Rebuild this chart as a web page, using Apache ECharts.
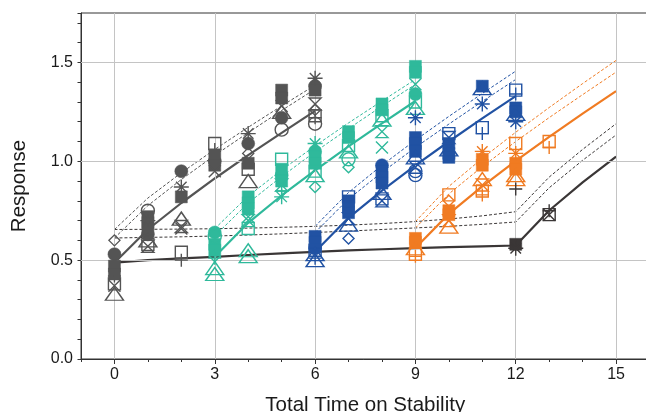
<!DOCTYPE html>
<html><head><meta charset="utf-8">
<script src="https://cdn.jsdelivr.net/npm/echarts@6/dist/echarts.min.js"></script>
<style>html,body{margin:0;padding:0;background:#fff}#c{width:646px;height:412px}</style>
</head><body><div id="c"></div>
<script>
// ---- tick labels ----
const xTicks = [0, 3, 6, 9, 12, 15];
const yTicks = [0.0, 0.5, 1.0, 1.5];

// ---- observations: [time, response, sample id] ----
const grayPoints = [
  [0,0.60,5],[0,0.53,0],[0,0.47,1],[0,0.43,1],[0,0.42,6],[0,0.38,2],[0,0.37,7],[0,0.33,4],
  [1,0.75,3],[1,0.72,1],[1,0.70,8],[1,0.69,1],[1,0.66,1],[1,0.63,0],[1,0.60,4],[1,0.58,2],[1,0.57,9],
  [2,0.95,0],[2,0.87,8],[2,0.82,1],[2,0.71,4],[2,0.67,9],[2,0.66,7],[2,0.54,2],[2,0.50,6],
  [3,1.09,2],[3,1.06,6],[3,1.03,1],[3,1.00,0],[3,0.98,1],[3,0.95,7],
  [4,1.14,8],[4,1.09,0],[4,1.04,5],[4,0.99,1],[4,0.96,2],[4,0.90,4],
  [5,1.36,1],[5,1.32,1],[5,1.28,7],[5,1.25,4],[5,1.22,0],[5,1.16,3],
  [6,1.42,8],[6,1.38,0],[6,1.36,1],[6,1.29,9],[6,1.26,5],[6,1.23,2],[6,1.22,6],[6,1.19,3]
];
const tealPoints = [
  [3,0.64,0],[3,0.62,3],[3,0.58,1],[3,0.55,1],[3,0.52,5],[3,0.51,6],[3,0.46,4],[3,0.43,4],
  [4,0.82,1],[4,0.79,1],[4,0.76,1],[4,0.72,7],[4,0.70,9],[4,0.66,2],[4,0.55,4],[4,0.52,4],
  [5,1.01,2],[5,0.96,1],[5,0.93,0],[5,0.90,1],[5,0.88,9],[5,0.85,6],[5,0.82,8],
  [6,1.09,8],[6,1.05,0],[6,1.02,1],[6,0.99,1],[6,0.95,2],[6,0.93,4],[6,0.87,5],
  [7,1.15,1],[7,1.12,1],[7,1.08,2],[7,1.05,4],[7,1.01,3],[7,0.97,5],
  [8,1.29,1],[8,1.26,1],[8,1.23,2],[8,1.21,4],[8,1.15,9],[8,1.07,7],
  [9,1.48,1],[9,1.45,1],[9,1.39,7],[9,1.34,0],[9,1.30,2],[9,1.27,4]
];
const bluePoints = [
  [6,0.62,1],[6,0.59,1],[6,0.56,0],[6,0.55,2],[6,0.53,4],[6,0.51,6],[6,0.50,4],
  [7,0.82,2],[7,0.80,1],[7,0.77,1],[7,0.74,1],[7,0.71,9],[7,0.68,4],[7,0.61,5],
  [8,0.98,0],[8,0.95,1],[8,0.92,1],[8,0.89,1],[8,0.84,4],[8,0.81,2],[8,0.80,9],
  [9,1.22,8],[9,1.12,1],[9,1.09,1],[9,1.05,1],[9,1.02,4],[9,0.97,9],[9,0.95,3],[9,0.93,3],
  [10,1.14,2],[10,1.12,9],[10,1.09,1],[10,1.06,4],[10,1.04,1],[10,1.02,1],
  [11,1.38,1],[11,1.37,4],[11,1.29,8],[11,1.17,2],[11,1.14,6],
  [12,1.36,2],[12,1.34,6],[12,1.27,1],[12,1.25,1],[12,1.24,4],[12,1.20,8]
];
const orangePoints = [
  [9,0.61,1],[9,0.59,1],[9,0.56,4],[9,0.53,2],[9,0.52,6],
  [10,0.83,2],[10,0.80,5],[10,0.75,1],[10,0.73,1],[10,0.70,9],[10,0.67,4],
  [11,1.05,8],[11,1.01,1],[11,0.98,1],[11,0.91,4],[11,0.88,9],[11,0.85,2],[11,0.83,6],
  [12,1.09,2],[12,1.04,8],[12,0.99,1],[12,0.96,1],[12,0.93,4],[12,0.91,4],
  [13,1.10,2],[13,1.07,6]
];
const blackPoints = [
  [12,0.58,1],[12,0.56,8],[12,0.86,6],[13,0.73,2],[13,0.73,7],[13,0.75,6]
];

// ---- fitted curves and bands ----
const blackFit = [[0,0.487],[1,0.50],[2,0.509],[3,0.517],[4,0.526],[5,0.534],[6,0.542],[7,0.549],[8,0.555],[9,0.561],[10,0.566],[11,0.570],[12,0.574],[13,0.751],[14,0.893],[15,1.024]];
const blackUpper = [[0,0.655],[1,0.656],[2,0.657],[3,0.659],[4,0.662],[5,0.666],[6,0.671],[7,0.677],[8,0.685],[9,0.695],[10,0.708],[11,0.724],[12,0.745],[13,0.92],[14,1.06],[15,1.19]];
const blackLower = [[0,0.612],[1,0.615],[2,0.618],[3,0.622],[4,0.627],[5,0.633],[6,0.640],[7,0.647],[8,0.655],[9,0.663],[10,0.671],[11,0.681],[12,0.693],[13,0.866],[14,1.005],[15,1.133]];
const grayFit = [[0,0.487],[1,0.655],[2,0.789],[3,0.913],[4,1.031],[5,1.144],[6,1.255]];
const grayUpper = [[0,0.655],[1,0.814],[2,0.942],[3,1.060],[4,1.172],[5,1.28],[6,1.385]];
const grayLower = [[0,0.612],[1,0.776],[2,0.908],[3,1.03],[4,1.145],[5,1.257],[6,1.365]];
const tealFit = [[3,0.517],[4,0.689],[5,0.827],[6,0.954],[7,1.075],[8,1.192],[9,1.305]];
const tealUpper = [[3,0.659],[4,0.824],[5,0.956],[6,1.078],[7,1.194],[8,1.305],[9,1.414]];
const tealLower = [[3,0.622],[4,0.789],[5,0.923],[6,1.048],[7,1.165],[8,1.279],[9,1.389]];
const blueFit = [[6,0.542],[7,0.714],[8,0.852],[9,0.979],[10,1.10],[11,1.217],[12,1.33]];
const blueUpper = [[6,0.671],[7,0.842],[8,0.98],[9,1.107],[10,1.227],[11,1.343],[12,1.456]];
const blueLower = [[6,0.640],[7,0.809],[8,0.944],[9,1.07],[10,1.188],[11,1.303],[12,1.414]];
const orangeFit = [[9,0.561],[10,0.734],[11,0.873],[12,1.002],[13,1.123],[14,1.241],[15,1.355]];
const orangeUpper = [[9,0.695],[10,0.873],[11,1.015],[12,1.147],[13,1.272],[14,1.393],[15,1.51]];
const orangeLower = [[9,0.663],[10,0.835],[11,0.973],[12,1.10],[13,1.221],[14,1.337],[15,1.451]];

// ---- styling ----
const C = { gray:'#545454', teal:'#2fb99b', blue:'#2152a3', orange:'#f07b22', black:'#3a3636' };
const FONT = 'Liberation Sans, Arial, sans-serif';
const markerDefs = [
  {symbol:'circle', size:13, fill:true},
  {symbol:'rect', size:12, fill:true},
  {symbol:'rect', size:12, fill:false},
  {symbol:'circle', size:13, fill:false},
  {symbol:'triangle', size:[18,13], fill:false},
  {symbol:'diamond', size:[11,11], fill:false},
  {symbol:'path://M5,0L5,10M0,5L10,5', size:13, fill:false},
  {symbol:'path://M0,0L10,10M10,0L0,10', size:12, fill:false},
  {symbol:'path://M5,0L5,10M0,5L10,5M1.5,1.5L8.5,8.5M8.5,1.5L1.5,8.5', size:15, fill:false},
  {symbol:'path://M0,0L10,0L0,10L10,10Z', size:12, fill:false}
];

function scatterSeries(points, color) {
  return markerDefs.map((m, k) => ({
    type:'scatter', z:5, silent:true, symbol:m.symbol, symbolSize:m.size,
    itemStyle: m.fill ? {color:color, borderColor:color, borderWidth:0.5, opacity:1}
                      : {color:'transparent', borderColor:color, borderWidth:1.4, opacity:1},
    data: points.filter(p => p[2] === k).map(p => [p[0], p[1]])
  })).filter(s => s.data.length);
}
function lineSeries(data, color, dashed) {
  return {type:'line', z:4, silent:true, symbol:'none', smooth:false, data:data,
    lineStyle:{color:color, width: dashed ? 1 : 2.2, type: dashed ? [3,2] : 'solid'}};
}

const series = [
  {type:'line', data:[], z:1, silent:true,
   markLine:{silent:true, symbol:'none', animation:false, label:{show:false},
     lineStyle:{color:'#c4c4c4', width:1, type:'solid'},
     emphasis:{disabled:true},
     data:[...xTicks.map(v => ({xAxis:v})), ...yTicks.filter(v => v > 0).map(v => ({yAxis:v}))]}},
  lineSeries(blackFit, C.black, false), lineSeries(blackUpper, C.black, true), lineSeries(blackLower, C.black, true),
  lineSeries(grayFit, C.gray, false), lineSeries(grayUpper, C.gray, true), lineSeries(grayLower, C.gray, true),
  lineSeries(tealFit, C.teal, false), lineSeries(tealUpper, C.teal, true), lineSeries(tealLower, C.teal, true),
  lineSeries(blueFit, C.blue, false), lineSeries(blueUpper, C.blue, true), lineSeries(blueLower, C.blue, true),
  lineSeries(orangeFit, C.orange, false), lineSeries(orangeUpper, C.orange, true), lineSeries(orangeLower, C.orange, true),
  ...scatterSeries(grayPoints, C.gray),
  ...scatterSeries(tealPoints, C.teal),
  ...scatterSeries(bluePoints, C.blue),
  ...scatterSeries(orangePoints, C.orange),
  ...scatterSeries(blackPoints, C.black)
];

const chart = echarts.init(document.getElementById('c'), null, {renderer:'canvas'});
chart.setOption({
  animation:false,
  backgroundColor:'#fff',
  grid:{left:81, top:13, width:568.5, bottom:53, show:true, borderColor:'#333', borderWidth:1,
        backgroundColor:'transparent', containLabel:false, outerBoundsMode:'none'},
  xAxis:[
    {type:'value', min:-1, max:16, interval:1,
     axisLine:{onZero:false, lineStyle:{color:'#333', width:1}},
     axisTick:{length:3, lineStyle:{color:'#333'}},
     axisLabel:{customValues:xTicks, fontSize:16, color:'#1a1a1a', margin:8, fontFamily:FONT},
     splitLine:{show:false},
     name:'Total Time on Stability', nameLocation:'middle', nameGap:36,
     nameTextStyle:{fontSize:20.5, color:'#1a1a1a', fontFamily:FONT}},
    {type:'value', min:-1, max:16, position:'bottom',
     axisLine:{show:false}, axisLabel:{show:false}, splitLine:{show:false},
     axisTick:{customValues:xTicks, length:5, lineStyle:{color:'#333'}}}
  ],
  yAxis:[
    {type:'value', min:0, max:1.75, interval:0.1, position:'left',
     axisLine:{show:true, onZero:false, lineStyle:{color:'#333', width:1}},
     axisTick:{show:true, length:3.5, lineStyle:{color:'#333'}},
     axisLabel:{customValues:yTicks, formatter:v => Number(v).toFixed(1), fontSize:16, color:'#1a1a1a', margin:8, fontFamily:FONT},
     splitLine:{show:false},
     name:'Response', nameLocation:'middle', nameGap:51,
     nameTextStyle:{fontSize:20.5, color:'#1a1a1a', fontFamily:FONT}},
    {type:'value', min:0, max:1.75, position:'left',
     axisLine:{show:false}, axisLabel:{show:false}, splitLine:{show:false},
     axisTick:{show:true, customValues:yTicks, length:6, lineStyle:{color:'#333'}}}
  ],
  series: series
});
</script></body></html>
